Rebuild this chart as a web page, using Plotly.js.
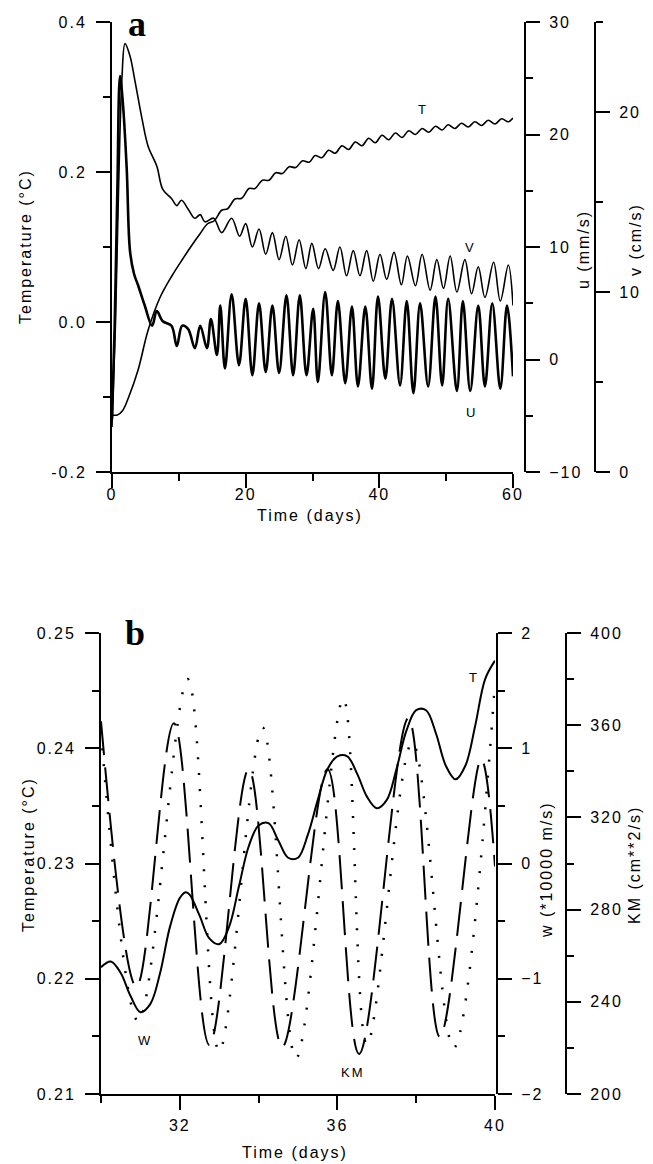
<!DOCTYPE html>
<html>
<head>
<meta charset="utf-8">
<script src="https://cdn.plot.ly/plotly-3.0.1.min.js"></script>
<style>
  html, body { margin: 0; padding: 0; background: #fff; }
  #chart { width: 653px; height: 1164px; }
  .main-svg text { letter-spacing: 2px; }
</style>
</head>
<body>
<div id="chart"></div>
<script>
// ---------------- Panel a data ----------------
// Temperature (°C), left axis
const tA_T = [0,0.8,1.6,2.5,3.9,5.4,7.2,9.0,10.5,12.0,13.2,14.3,15.3,16.4,17.3,18.4,19.4,20.5,21.4,22.5,23.5,24.5,25.5,26.5,27.5,28.5,29.5,30.4,31.4,32.4,33.4,34.4,35.4,36.4,37.4,38.4,39.4,40.4,41.4,42.4,43.4,44.4,45.4,46.4,47.4,48.4,49.4,50.3,51.3,52.3,53.3,54.3,55.3,56.3,57.3,58.3,59.3,60.0];
const valA_T = [-0.124,-0.124,-0.118,-0.100,-0.064,-0.011,0.033,0.062,0.083,0.103,0.118,0.131,0.135,0.149,0.151,0.164,0.165,0.178,0.178,0.189,0.189,0.199,0.198,0.207,0.206,0.215,0.213,0.222,0.219,0.229,0.225,0.235,0.230,0.240,0.235,0.245,0.239,0.249,0.243,0.252,0.246,0.255,0.250,0.258,0.253,0.261,0.256,0.263,0.258,0.265,0.260,0.267,0.262,0.269,0.264,0.271,0.267,0.272];
// v (cm/s), right axis 2
const tA_V = [0,0.5,1.0,1.5,1.95,2.7,3.4,4.5,5.4,6.7,7.6,8.9,9.7,10.4,11.4,12.4,13.2,13.9,15.2,16.4,17.9,19.1,20.0,21.0,22.0,23.0,24.0,25.0,26.0,27.0,28.0,29.0,29.9,30.9,31.9,33.1,34.1,35.1,36.1,37.1,38.1,39.1,40.1,41.1,42.2,43.3,44.2,45.4,46.4,47.6,48.6,49.6,50.6,51.6,52.8,53.8,54.8,55.8,57.1,58.1,59.3,60.0];
const valA_V = [2.5,8,16,22,23.8,23.1,21.8,19.6,18.1,17.0,15.7,15.2,14.8,15.1,14.6,14.1,14.3,13.9,14.1,13.3,14.1,13.1,13.8,12.5,13.5,12.1,13.3,11.8,13.1,11.5,12.9,11.3,12.7,11.3,12.4,11.2,12.5,10.9,12.3,10.9,12.3,10.6,12.1,10.7,12.2,10.4,12.0,10.35,12.1,10.1,11.8,10.2,12.0,10.0,11.8,9.9,11.4,9.7,11.65,9.5,11.5,9.25];
// u (mm/s), right axis 1
const tA_U = [0,0.4,0.8,1.2,1.6,2.2,2.7,3.3,3.9,4.9,6.0,6.7,7.6,8.9,9.7,10.5,11.4,12.4,13.2,14.2,14.8,15.7,16.2,16.9,17.9,19.0,20.0,21.0,22.0,23.0,24.0,25.0,26.1,27.1,28.1,29.1,30.1,30.8,31.9,32.9,33.8,34.9,35.9,36.8,37.9,38.9,39.8,40.9,41.9,43.1,44.1,45.1,46.1,47.3,48.4,49.4,50.3,51.6,52.5,53.6,54.8,55.8,56.9,58.1,59.1,60.0];
const valA_U = [-5.3,3,15,25.2,23,17,9.6,7.6,6.6,4.8,3.0,4.3,3.4,3.0,1.2,3.0,2.7,1.0,3.0,1.0,3.6,0.4,4.8,-0.8,5.8,-0.5,5.4,-1.4,5.0,-1.1,4.8,-1.2,5.7,-1.4,5.7,-1.4,4.5,-2.0,6.0,-1.4,5.2,-2.1,4.7,-2.4,4.7,-2.6,5.6,-1.7,5.4,-2.3,5.2,-3.0,5.0,-2.4,5.6,-2.3,5.4,-2.8,5.2,-2.8,4.8,-2.4,5.0,-2.6,4.8,-1.5];

// ---------------- Panel b data ----------------
const tB_T = [30.0,30.25,30.5,30.75,31.0,31.25,31.5,31.75,32.0,32.15,32.25,32.5,32.75,33.0,33.25,33.5,33.75,34.0,34.25,34.5,34.75,35.0,35.25,35.5,35.75,36.0,36.25,36.5,36.75,37.0,37.25,37.5,37.75,38.0,38.25,38.5,38.75,39.0,39.25,39.5,39.75,40.0];
const valB_T = [0.2210,0.2215,0.2205,0.2185,0.2171,0.2178,0.2205,0.2245,0.2270,0.2275,0.2273,0.2255,0.2235,0.2230,0.2245,0.2280,0.2315,0.2333,0.2335,0.2320,0.2305,0.2305,0.2325,0.2355,0.2382,0.2393,0.2393,0.2378,0.2358,0.2348,0.2355,0.2382,0.2415,0.2433,0.2433,0.2413,0.2385,0.2373,0.2385,0.2420,0.2460,0.2476];
// KM (cm**2/s) dashed
const tB_KM = [30.0,30.9,31.85,32.75,33.75,34.6,35.75,36.55,37.8,38.6,39.65,40.0];
const valB_KM = [361.7,246.5,360.9,221.3,340.9,220.4,340.9,217.4,363.0,224.8,345.2,298.7];
// w (*10000 m/s) dotted
const tB_W = [30.0,30.95,32.2,33.0,34.1,34.95,36.15,36.75,37.9,38.95,40.0];
const valB_W = [1.14,-1.37,1.60,-1.63,1.18,-1.69,1.43,-1.57,1.05,-1.60,1.56];

// tick labels
const aTempTicks = [-0.2, 0.0, 0.2, 0.4];
const aTempText = ['-0.2', '0.0', '0.2', '0.4'];
const bTempTicks = [0.21, 0.22, 0.23, 0.24, 0.25];
const bTempText = ['0.21', '0.22', '0.23', '0.24', '0.25'];

// ---------------- layout helpers ----------------
const W = 653, H = 1164;
const fx = p => p / W;
const fy = p => 1 - p / H;
const FONT = 'Liberation Sans, Arial, sans-serif';

function ax(extra) {
  return Object.assign({
    showline: true, linecolor: '#000', linewidth: 2,
    ticks: 'outside', ticklen: 14, tickwidth: 2, tickcolor: '#000',
    showgrid: false, zeroline: false, fixedrange: true,
    tickfont: {family: FONT, size: 16, color: '#000'},
    minor: {ticks: 'outside', ticklen: 7, tickwidth: 2, tickcolor: '#000', showgrid: false}
  }, extra);
}
function mn(dtick, tick0) {
  return {ticks: 'outside', ticklen: 7, tickwidth: 2, tickcolor: '#000', dtick: dtick, tick0: tick0, showgrid: false};
}

const lineBase = {color: '#000', shape: 'spline', smoothing: 1};

const traces = [
  {x: tA_T, y: valA_T, xaxis: 'x', yaxis: 'y', mode: 'lines', line: Object.assign({width: 1.6}, lineBase), hoverinfo: 'skip'},
  {x: tA_V, y: valA_V, xaxis: 'x', yaxis: 'y3', mode: 'lines', line: Object.assign({width: 1.6}, lineBase), hoverinfo: 'skip'},
  {x: tA_U, y: valA_U, xaxis: 'x', yaxis: 'y2', mode: 'lines', line: Object.assign({width: 2.6}, lineBase), hoverinfo: 'skip'},
  {x: tB_T, y: valB_T, xaxis: 'x2', yaxis: 'y4', mode: 'lines', line: Object.assign({width: 2}, lineBase), hoverinfo: 'skip'},
  {x: tB_KM, y: valB_KM, xaxis: 'x2', yaxis: 'y6', mode: 'lines', line: Object.assign({width: 2, dash: '34px,12px'}, lineBase), hoverinfo: 'skip'},
  {x: tB_W, y: valB_W, xaxis: 'x2', yaxis: 'y5', mode: 'lines', line: Object.assign({width: 2.5, dash: '2px,14px'}, lineBase), hoverinfo: 'skip'}
];

function note(text, x, y, size, angle) {
  return {text: text, x: fx(x), y: fy(y), xref: 'paper', yref: 'paper', showarrow: false,
          textangle: angle || 0, font: {family: FONT, size: size, color: '#000'}, xanchor: 'center', yanchor: 'middle'};
}

const layout = {
  width: W, height: H,
  margin: {l: 0, r: 0, t: 0, b: 0},
  paper_bgcolor: '#fff', plot_bgcolor: 'rgba(0,0,0,0)',
  showlegend: false,
  font: {family: FONT, color: '#000'},
  // panel a
  xaxis: ax({domain: [fx(112), fx(513)], range: [0, 60], anchor: 'y', tickvals: [0, 20, 40, 60], ticktext: ['0','20','40','60'], minor: mn(10, 0), ticklabelstandoff: -7}),
  yaxis: ax({domain: [fy(472), fy(22)], range: [-0.2, 0.4], anchor: 'x', tickvals: aTempTicks, ticktext: aTempText, minor: mn(0.1, 0), ticklabelstandoff: 6}),
  yaxis2: ax({overlaying: 'y', side: 'right', anchor: 'free', position: fx(525), range: [-10, 30], tickvals: [-10, 0, 10, 20, 30], minor: mn(5, 0), ticklabelstandoff: 6}),
  yaxis3: ax({overlaying: 'y', side: 'right', anchor: 'free', position: fx(595), range: [0, 25], tickvals: [0, 10, 20], minor: mn(5, 0), ticklabelstandoff: 6}),
  // panel b
  xaxis2: ax({domain: [fx(101), fx(495)], range: [30, 40], anchor: 'y4', tickvals: [32, 36, 40], minor: mn(2, 30), ticklabelstandoff: 2}),
  yaxis4: ax({domain: [fy(1094), fy(633)], range: [0.21, 0.25], anchor: 'x2', tickvals: bTempTicks, ticktext: bTempText, minor: mn(0.005, 0.21), ticklabelstandoff: 6}),
  yaxis5: ax({overlaying: 'y4', side: 'right', anchor: 'free', position: fx(497), range: [-2, 2], tickvals: [-2, -1, 0, 1, 2], minor: mn(0.5, 0), ticklabelstandoff: 6}),
  yaxis6: ax({overlaying: 'y4', side: 'right', anchor: 'free', position: fx(566), range: [200, 400], tickvals: [200, 240, 280, 320, 360, 400], minor: mn(20, 200), ticklabelstandoff: 6}),
  annotations: [
    // panel letters
    {text: '<b>a</b>', x: fx(138), y: fy(24), xref: 'paper', yref: 'paper', showarrow: false, font: {family: 'Liberation Serif, Times New Roman, serif', size: 36, color: '#000'}, xanchor: 'center', yanchor: 'middle'},
    {text: '<b>b</b>', x: fx(136), y: fy(633), xref: 'paper', yref: 'paper', showarrow: false, font: {family: 'Liberation Serif, Times New Roman, serif', size: 36, color: '#000'}, xanchor: 'center', yanchor: 'middle'},
    // axis titles panel a
    note('Temperature (°C)', 25, 247, 16, -90),
    note('Time (days)', 310, 515, 16),
    note('u (mm/s)', 583, 250, 16, -90),
    note('v (cm/s)', 636, 240, 16, -90),
    // axis titles panel b
    note('Temperature (°C)', 28, 855, 16, -90),
    note('Time (days)', 295, 1152, 16),
    note('w (*10000 m/s)', 546, 870, 16, -90),
    note('KM (cm**2/s)', 634, 865, 16, -90),
    // series labels
    note('T', 423, 109, 13),
    note('V', 470, 247, 13),
    note('U', 472, 412, 13),
    note('T', 474, 677, 13),
    note('W', 145, 1040, 13),
    note('KM', 353, 1072, 13)
  ]
};

Plotly.newPlot('chart', traces, layout, {staticPlot: true, displayModeBar: false});
</script>
</body>
</html>
